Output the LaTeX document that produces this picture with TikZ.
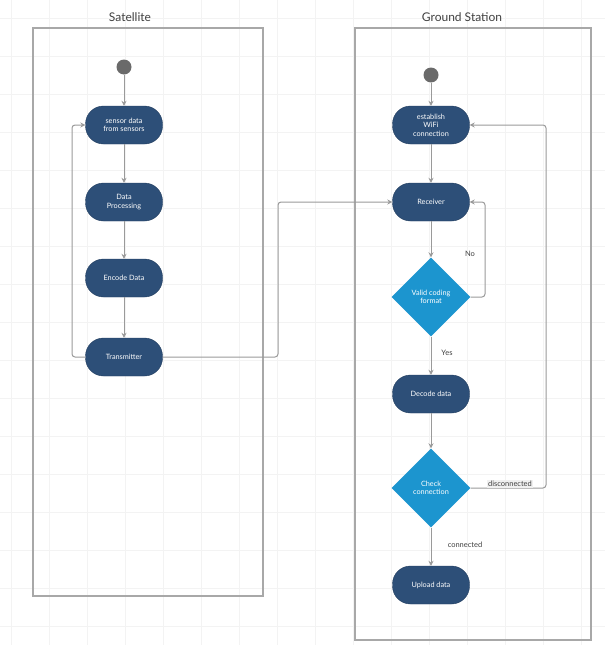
\documentclass[tikz,border=0pt]{standalone}
\usepackage{fontspec}
\setmainfont{Lato}
\usetikzlibrary{shapes.geometric,arrows.meta}
\definecolor{pill}{HTML}{2D4F78}
\definecolor{dia}{HTML}{1C95CF}
\definecolor{ln}{HTML}{9A9A9A}
\definecolor{lane}{HTML}{A8A8A8}
\definecolor{startc}{HTML}{6A6A6A}
\definecolor{gridc}{HTML}{F3F3F3}
\begin{document}
\begin{tikzpicture}[x=1pt,y=-1pt,
  pillbox/.style={rectangle,rounded corners=18pt,fill=pill,draw=pill!80!black,line width=0.4pt,minimum width=77pt,minimum height=38pt,text=white,font=\fontsize{7.3}{8.5}\selectfont,align=center,inner sep=1pt},
  diabox/.style={diamond,fill=dia,minimum size=79pt,inner sep=0pt,text=white,font=\fontsize{7.3}{8.5}\selectfont,align=center},
  startdot/.style={circle,fill=startc,minimum size=15pt,inner sep=0pt},
  lanebox/.style={draw=lane,line width=1.3pt},
  arr/.style={draw=ln,line width=1pt,-{Stealth[length=5pt,width=5pt]},rounded corners=3pt},
  lbl/.style={font=\fontsize{7.5}{9}\selectfont,text=black!75},
  title/.style={font=\fontsize{12}{14}\selectfont,text=black!75}
]
\useasboundingbox (0,0) rectangle (605,645);
\fill[white] (0,0) rectangle (605,645);
\foreach \i in {0,...,16} {
  \draw[gridc,line width=0.6pt] (\i*38+11,0) -- (\i*38+11,645);
}
\foreach \j in {0,...,17} {
  \draw[gridc,line width=0.6pt] (0,\j*38+18) -- (605,\j*38+18);
}
% lanes
\draw[lanebox] (33,28) rectangle (263,596);
\draw[lanebox] (355,28) rectangle (591,640);
\node[title] (tsat) at (130,17) {Satellite};
\node[title] (tgs) at (462,17) {Ground Station};
% satellite
\node[startdot] (s1) at (124,67) {};
\node[pillbox] (sensor) at (124,125) {sensor data\\from sensors};
\node[pillbox] (proc) at (124,202) {Data\\Processing};
\node[pillbox] (enc) at (124,278) {Encode Data};
\node[pillbox] (trans) at (124,357) {Transmitter};
% ground
\node[startdot] (s2) at (431,75) {};
\node[pillbox] (est) at (431,125) {establish\\WiFi\\connection};
\node[pillbox] (recv) at (431,202) {Receiver};
\node[diabox] (d1) at (431,297) {Valid coding\\format};
\node[pillbox] (dec) at (431,394) {Decode data};
\node[diabox] (d2) at (431,488) {Check\\connection};
\node[pillbox] (up) at (431,585) {Upload data};
\coordinate (jx) at (278,0);
\coordinate (lx) at (72,0);
\coordinate (nx) at (485,0);
\coordinate (dx) at (546,0);
% edges
\draw[arr] (s1) -- (sensor);
\draw[arr] (sensor) -- (proc);
\draw[arr] (proc) -- (enc);
\draw[arr] (enc) -- (trans);
\draw[arr] (trans.west) -- (trans.west -| lx) -- (sensor.west -| lx) -- (sensor.west);
\draw[arr] (trans.east) -- (trans.east -| jx) -- (recv.west -| jx) -- (recv.west);
\draw[arr] (s2) -- (est);
\draw[arr] (est) -- (recv);
\draw[arr] (recv) -- (d1);
\draw[arr] (d1.east) -- (d1.east -| nx) -- (recv.east -| nx) -- (recv.east);
\node[lbl] (no) at (470,254) {No};
\draw[arr] (d1.south) -- (dec);
\node[lbl] (yes) at (447,353) {Yes};
\draw[arr] (dec) -- (d2);
\draw[arr] (d2.east) -- (d2.east -| dx) -- (est.east -| dx) -- (est.east);
\node[lbl,fill=gray!12,inner sep=1pt] (disc) at (510,484) {disconnected};
\draw[arr] (d2.south) -- (up);
\node[lbl] (conn) at (465,545) {connected};
\end{tikzpicture}
\end{document}
